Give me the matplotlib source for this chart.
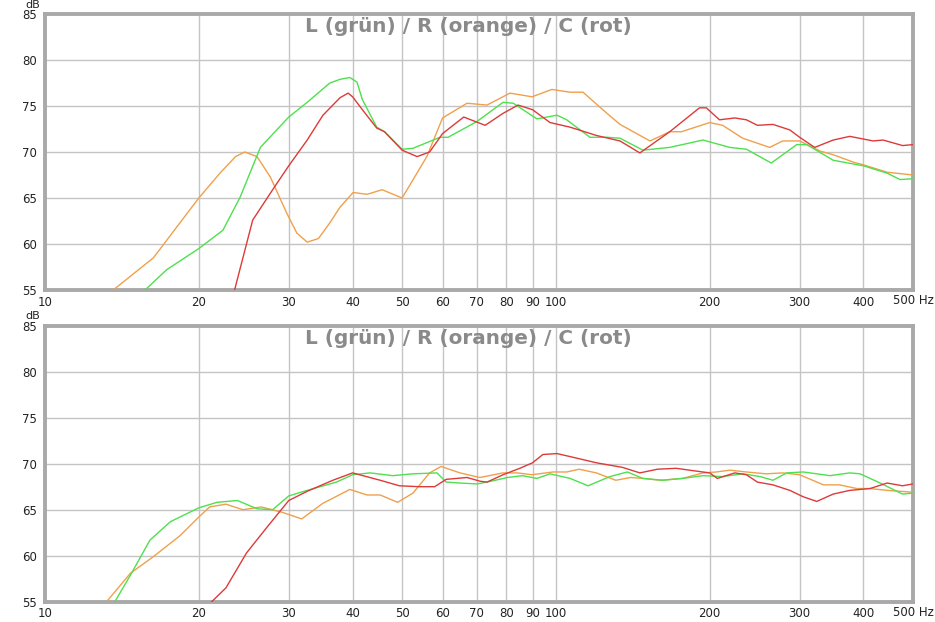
import matplotlib
matplotlib.use("Agg")
import matplotlib.pyplot as plt
import matplotlib.transforms as mtransforms

title_text = "L (grün) / R (orange) / C (rot)"
x_ticks = [10, 20, 30, 40, 50, 60, 70, 80, 90, 100, 200, 300, 400, 500]
x_tick_labels = ["10", "20", "30", "40", "50", "60", "70", "80", "90", "100", "200", "300", "400", ""]
y_ticks = [55, 60, 65, 70, 75, 80, 85]

# ---------- top panel ----------
top_L_f = [15.7, 17.3, 20, 22.3, 24.1, 26.4, 30, 32.6, 36.1, 37.8, 39.5, 40.8, 41.8, 44.6, 46.2, 50, 52.5,
           59.3, 61.5, 70, 78.8, 82.5, 91.8, 100.5, 105, 116.6, 126, 133.5, 148, 167, 194, 219, 236,
           264, 296, 310, 349, 400, 445, 472, 500]
top_L_db = [55, 57.2, 59.5, 61.5, 65.1, 70.5, 73.8, 75.4, 77.5, 77.9, 78.1, 77.6, 75.7, 72.7, 72.2, 70.3, 70.4,
            71.6, 71.6, 73.3, 75.4, 75.3, 73.6, 74.0, 73.5, 71.6, 71.6, 71.5, 70.2, 70.5, 71.3, 70.5, 70.3,
            68.8, 70.8, 70.8, 69.1, 68.5, 67.7, 67.0, 67.1]

top_R_f = [13.6, 16.3, 20, 22.0, 23.6, 24.6, 26, 27.6, 29.7, 31.1, 32.6, 34.3, 36.1, 37.8, 40.1, 42.7,
           45.7, 50, 55.9, 60, 67, 73.3, 81.3, 89.8, 98.2, 106.6, 113, 125.9, 133.5, 152.8, 167, 176,
           200, 212, 232, 262, 278, 300, 329, 349, 382, 400, 445, 500]
top_R_db = [55, 58.5, 65.0, 67.7, 69.5, 70.0, 69.5, 67.3, 63.4, 61.2, 60.2, 60.6, 62.3, 64.0, 65.6, 65.4,
            65.9, 65.0, 69.5, 73.7, 75.3, 75.1, 76.4, 76.0, 76.8, 76.5, 76.5, 74.2, 73.0, 71.2, 72.2, 72.2,
            73.2, 72.9, 71.5, 70.5, 71.2, 71.2, 70.1, 69.7, 68.9, 68.6, 67.8, 67.5]

top_C_f = [23.5, 25.5, 27.9, 30, 32.6, 35.0, 37.8, 39.2, 40, 41.8, 44.6, 46.2, 50, 53.5, 56.6, 60, 66,
           72.7, 78.8, 84.3, 90, 97.4, 106.6, 120, 133.5, 146, 167, 191, 197, 209, 224, 236, 248,
           266, 287, 300, 321, 349, 376, 418, 437, 477, 500]
top_C_db = [55, 62.6, 65.9, 68.5, 71.3, 74.0, 75.9, 76.4, 76.0, 74.6, 72.6, 72.2, 70.2, 69.5, 70.0, 72.0, 73.8,
            72.9, 74.2, 75.1, 74.6, 73.2, 72.7, 71.8, 71.2, 69.9, 72.2, 74.8, 74.8, 73.5, 73.7, 73.5, 72.9,
            73.0, 72.4, 71.6, 70.5, 71.3, 71.7, 71.2, 71.3, 70.7, 70.8]

# ---------- bottom panel ----------
bot_L_f = [13.7, 14.7, 16.05, 17.6, 20, 21.7, 23.8, 26, 27.9, 30, 32.6, 37.2, 40, 43.3, 47.9, 52.5,
           58.5, 61, 64.9, 70, 73.3, 80.4, 86, 91.8, 97.4, 106.6, 115.6, 127.6, 138, 148, 162, 177,
           194, 212, 232, 251, 266, 283, 305, 344, 376, 394, 431, 477, 500]
bot_L_db = [55, 57.9, 61.7, 63.7, 65.2, 65.8, 66.0, 65.1, 65.0, 66.5, 67.1, 68.0, 68.8, 69.0, 68.7, 68.9,
            69.0, 68.0, 67.9, 67.8, 68.0, 68.5, 68.7, 68.4, 68.9, 68.4, 67.6, 68.6, 69.1, 68.4, 68.2, 68.4,
            68.7, 68.6, 68.9, 68.6, 68.2, 69.0, 69.1, 68.7, 69.0, 68.9, 67.9, 66.7, 66.8]

bot_R_f = [13.2, 14.7, 16.3, 18.4, 20, 21, 22.6, 24.4, 26.5, 29.2, 31.8, 35, 39.5, 42.7, 45.3, 49,
           52.5, 56.6, 59.6, 64.9, 71, 78.8, 84, 89.8, 98.6, 105, 111, 120, 131, 140, 148, 160,
           177, 194, 206, 219, 236, 258, 278, 300, 334, 359, 388, 412, 445, 500]
bot_R_db = [55, 58.1, 59.9, 62.2, 64.2, 65.3, 65.6, 65.0, 65.3, 64.7, 64.0, 65.7, 67.2, 66.6, 66.6, 65.8,
            66.8, 69.0, 69.7, 69.0, 68.5, 69.0, 69.0, 68.8, 69.1, 69.1, 69.4, 69.0, 68.2, 68.5, 68.4, 68.2,
            68.4, 69.0, 69.1, 69.3, 69.1, 68.9, 69.0, 68.8, 67.7, 67.7, 67.3, 67.3, 67.1, 66.9]

bot_C_f = [21.2, 22.6, 24.8, 27.2, 30, 32.6, 36.6, 40, 45.3, 49.4, 54, 57.9, 61, 67, 71, 73.3,
           78.8, 85, 90, 94.3, 100.5, 108, 120, 135, 146, 158, 172, 188, 200, 207, 224, 236,
           248, 266, 287, 305, 324, 349, 376, 412, 445, 477, 500]
bot_C_db = [55, 56.5, 60.3, 63.1, 66.0, 67.0, 68.2, 69.0, 68.2, 67.6, 67.5, 67.5, 68.3, 68.5, 68.1, 68.0,
            68.8, 69.5, 70.1, 71.0, 71.1, 70.7, 70.1, 69.6, 69.0, 69.4, 69.5, 69.2, 69.0, 68.4, 69.0, 68.8,
            68.0, 67.7, 67.1, 66.4, 65.9, 66.7, 67.1, 67.3, 67.9, 67.6, 67.8]

GREEN = "#4ee04e"
ORANGE = "#f0a04c"
RED = "#dd3a3a"

W, H = 935, 622
fig = plt.figure(figsize=(W / 100, H / 100), dpi=100)
fig.patch.set_facecolor("white")


def make_axes(top_px, bottom_px, series):
    left_px, right_px = 45, 913
    ax = fig.add_axes([left_px / W, 1 - bottom_px / H, (right_px - left_px) / W, (bottom_px - top_px) / H])
    ax.set_xscale("log")
    ax.set_xlim(10, 500)
    ax.set_ylim(55, 85)
    ax.set_xticks(x_ticks)
    ax.set_xticklabels(x_tick_labels)
    ax.xaxis.set_minor_locator(matplotlib.ticker.NullLocator())
    ax.set_yticks(y_ticks)
    ax.set_yticklabels([str(v) for v in y_ticks])
    ax.tick_params(axis="both", length=0, labelsize=8.5, colors="#222222")
    ax.tick_params(axis="x", pad=4)
    ax.tick_params(axis="y", pad=6)
    ax.grid(True, color="#c4c4c4", linewidth=1.0)
    ax.set_axisbelow(True)
    for s in ax.spines.values():
        s.set_color("#a9a9a9")
        s.set_linewidth(2.8)
    for f, d, c in series:
        ax.plot(f, d, color=c, linewidth=1.0, solid_joinstyle="round", clip_on=True, zorder=3)
    ax.text(0.488, 0.988, title_text, transform=ax.transAxes, ha="center", va="top",
            fontsize=14.4, fontweight="bold", color="#8a8a8a", family="DejaVu Sans", zorder=4)
    # "500 Hz" label
    trans = mtransforms.blended_transform_factory(ax.transData, ax.transAxes)
    ax.annotate("500 Hz", xy=(500, 0), xycoords=trans, xytext=(-20, -4), textcoords="offset pixels",
                ha="left", va="top", fontsize=8.5, color="#222222", annotation_clip=False)
    # dB unit label
    fig.text(33 / W, 1 - (top_px - 9.5) / H, "dB", ha="center", va="center", fontsize=8, color="#222222")
    return ax


make_axes(14, 290, [(top_R_f, top_R_db, ORANGE), (top_L_f, top_L_db, GREEN), (top_C_f, top_C_db, RED)])
make_axes(325.7, 601.7, [(bot_R_f, bot_R_db, ORANGE), (bot_L_f, bot_L_db, GREEN), (bot_C_f, bot_C_db, RED)])

fig.savefig("out.png", dpi=100, facecolor="white")
